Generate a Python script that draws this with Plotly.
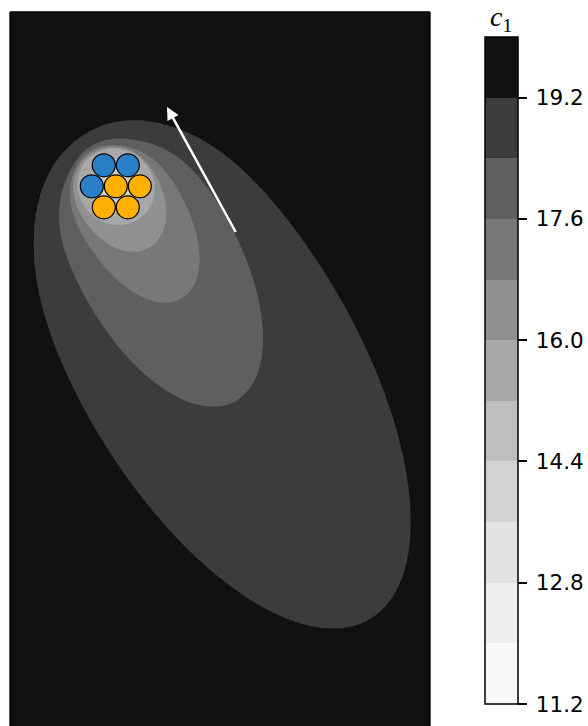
import numpy as np
import plotly.graph_objects as go

# ---------------- data ----------------
# c1 band edges (lowest first) and the grey of each band
c_edges = [11.2, 12.0, 12.8, 13.6, 14.4, 15.2, 16.0, 16.8, 17.6, 18.4, 19.2, 20.0]
band_colors = ["#f9f9f9", "#efefef", "#e2e2e2", "#d2d2d2", "#bebebe", "#a8a8a8",
               "#909090", "#787878", "#5f5f5f", "#3c3c3c", "#111111"]
tick_values = [11.2, 12.8, 14.4, 16.0, 17.6, 19.2]
tick_labels = ["11.2", "12.8", "14.4", "16.0", "17.6", "19.2"]

# point from which the contour outlines are described (centre of the cluster)
pole_x, pole_y = 105.0, 174.0

# contour outlines (plot units, y measured downward) and their c1 value
A_level = 19.2
A_x = [130, 166.7, 210, 243, 270, 333, 386, 395, 399, 393, 380, 360, 330, 287, 253, 220,
       140, 81.7, 63, 43, 30, 24, 25, 33, 50, 76.7]
A_y = [109, 116, 141, 168, 194.7, 302, 408, 458, 508, 551, 590, 616, 624, 615, 596, 576,
       488, 408, 375, 331, 284.7, 241, 214.7, 175, 144.7, 121.3]

B_level = 18.4
B_x = [110, 136.7, 160, 196.7, 226.7, 243, 251.7, 250, 236.7, 203, 163, 126.7, 93, 66.7,
       53, 49.3, 51.7, 63, 86.7]
B_y = [127.3, 129.7, 141, 174.7, 224.7, 264.7, 314.7, 338, 378, 393, 384.7, 354.7, 314.7,
       268, 231, 198, 181, 154.7, 131]

C_level = 17.6
C_x = [100, 120, 143, 166.7, 183, 188, 186.7, 176.7, 153, 120, 90, 66.7, 60, 63, 76.7]
C_y = [134, 135, 148, 174.7, 211, 244.7, 258, 284.7, 293, 278, 248, 211, 184.7, 164.7, 141]

D_level = 16.8
D_x = [93, 110, 130, 146.7, 153, 155, 151, 142, 126.7, 105, 86.7, 70, 63.3, 65, 73]
D_y = [136, 136, 144.7, 164.7, 183, 203, 223, 235, 241.3, 235, 221.3, 203, 181.3, 166, 148]

E_level = 16.0
E_x = [86.7, 110, 136.7, 141.7, 136.7, 110, 83, 68, 73]
E_y = [139.7, 138, 148, 174.7, 204.7, 211, 204.7, 174.7, 151]

F_level = 15.2
F_x = [105, 124, 132, 124, 105, 86, 78, 86]
F_y = [147, 155, 174, 193, 201, 193, 174, 155]

G_level = 14.4
G_x = [105, 117, 122, 117, 105, 93, 88, 93]
G_y = [157, 162, 174, 186, 191, 186, 174, 162]

# particles
blue_x = [93.8, 117.8, 81.8]
blue_y = [153.3, 153.3, 174.3]
orange_x = [105.8, 129.8, 93.8, 117.8]
orange_y = [174.3, 174.3, 195.3, 195.3]

# arrow (tail -> head)
arrow_tail = (226.5, 221.5)
arrow_head = (157.0, 95.0)

plot_w, plot_h = 420, 714

# ---------------- build the c1 field ----------------
c0 = c_edges[0]
dc = c_edges[1] - c_edges[0]


def to_index(c):
    return round((c - c0) / dc)


def fit_outline(xs, ys, m):
    dx = np.asarray(xs, float) - pole_x
    dy = np.asarray(ys, float) - pole_y
    phi = np.arctan2(dy, dx)
    r = np.hypot(dx, dy)
    cols = [np.ones_like(phi)]
    for k in range(1, m + 1):
        cols += [np.cos(k * phi), np.sin(k * phi)]
    coef = np.linalg.lstsq(np.stack(cols, 1), 1.0 / r, rcond=None)[0]
    return coef


def outline_radius(coef, phi):
    m = (len(coef) - 1) // 2
    s = coef[0] * np.ones_like(phi)
    for k in range(1, m + 1):
        s = s + coef[2 * k - 1] * np.cos(k * phi) + coef[2 * k] * np.sin(k * phi)
    return 1.0 / s


outlines = [  # innermost first
    (G_level, G_x, G_y, 2),
    (F_level, F_x, F_y, 2),
    (E_level, E_x, E_y, 2),
    (D_level, D_x, D_y, 3),
    (C_level, C_x, C_y, 4),
    (B_level, B_x, B_y, 4),
    (A_level, A_x, A_y, 5),
]

gx = np.linspace(0, plot_w, 281)
gy = np.linspace(0, plot_h, 477)
X, Y = np.meshgrid(gx, gy)
DX, DY = X - pole_x, Y - pole_y
R = np.hypot(DX, DY)
PHI = np.arctan2(DY, DX)

radii = []
levels = []
prev = None
for lev, xs, ys, m in outlines:
    rk = outline_radius(fit_outline(xs, ys, m), PHI)
    if prev is not None:
        rk = np.maximum(rk, prev * 1.01 + 0.3)
    radii.append(rk)
    levels.append(to_index(lev))
    prev = rk

Z = np.full(R.shape, np.nan)
inner = R < radii[0]
Z[inner] = levels[0] - 0.8 + 0.8 * R[inner] / radii[0][inner]
for k in range(len(radii) - 1):
    sel = (R >= radii[k]) & (R < radii[k + 1])
    Z[sel] = levels[k] + (R[sel] - radii[k][sel]) / (radii[k + 1][sel] - radii[k][sel])
outer = R >= radii[-1]
Z[outer] = levels[-1] + 0.8 * (1 - radii[-1][outer] / R[outer])
Z = np.round(Z, 3)

n_bands = len(band_colors)
colorscale = [[i / (n_bands - 1), c] for i, c in enumerate(band_colors)]

fig = go.Figure()
fig.add_trace(go.Contour(
    x=gx, y=gy, z=Z,
    zmin=0, zmax=n_bands,
    autocontour=False,
    contours=dict(start=1, end=n_bands - 1, size=1, coloring="fill", showlines=False),
    line=dict(width=0),
    colorscale=colorscale,
    hoverinfo="skip",
    colorbar=dict(
        thickness=33, thicknessmode="pixels",
        len=667, lenmode="pixels",
        x=(485 - 10) / plot_w, xanchor="left", xpad=0,
        y=(726 - 370.5) / plot_h, yanchor="middle", ypad=0,
        outlinewidth=1.5, outlinecolor="black",
        ticks="outside", ticklen=9, tickwidth=1.5, tickcolor="black",
        tickvals=[to_index(v) for v in tick_values],
        ticktext=["\u2009" + t for t in tick_labels],
        tickfont=dict(family="DejaVu Sans", size=21.5, color="black"),
        bgcolor="rgba(0,0,0,0)", borderwidth=0,
    ),
))

fig.add_trace(go.Scatter(
    x=blue_x, y=blue_y, mode="markers", hoverinfo="skip",
    marker=dict(size=23, color="#2a80c8", line=dict(color="black", width=1.2)),
))
fig.add_trace(go.Scatter(
    x=orange_x, y=orange_y, mode="markers", hoverinfo="skip",
    marker=dict(size=23, color="#ffb000", line=dict(color="black", width=1.2)),
))

fig.add_annotation(
    x=arrow_head[0], y=arrow_head[1], ax=arrow_tail[0], ay=arrow_tail[1],
    xref="x", yref="y", axref="x", ayref="y",
    showarrow=True, arrowhead=2, arrowsize=1.0, arrowwidth=2.5,
    arrowcolor="white", text="", standoff=0,
)

fig.add_annotation(
    x=(501 - 10) / plot_w, y=(726 - 19) / plot_h, xref="paper", yref="paper",
    text="<i>c</i><sub>1</sub>", showarrow=False,
    font=dict(family="Liberation Serif", size=28, color="black"),
    xanchor="center", yanchor="middle",
)

for x0, y0, x1, y1 in [(0, 0, 0, 1), (0, 1, 1, 1), (1, 1, 1, 0)]:
    fig.add_shape(type="line", xref="paper", yref="paper", x0=x0, y0=y0, x1=x1, y1=y1,
                  line=dict(color="black", width=1.3))

fig.update_layout(
    width=588, height=726,
    margin=dict(l=10, r=158, t=12, b=0, autoexpand=False),
    paper_bgcolor="white", plot_bgcolor="#111111",
    showlegend=False,
    xaxis=dict(range=[0, plot_w], visible=False),
    yaxis=dict(range=[plot_h, 0], visible=False),
)

fig.write_html(
    "out.html",
    config={"displayModeBar": False},
    post_script="document.body.style.margin='0';document.body.style.overflow='hidden';",
)
